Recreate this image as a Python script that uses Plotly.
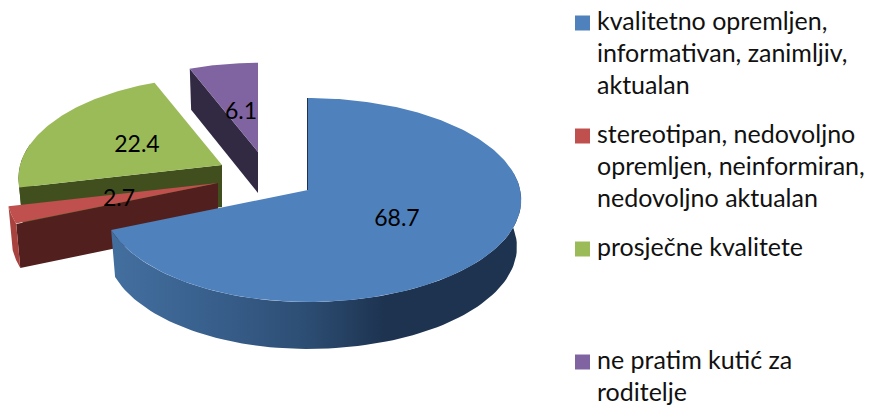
import math
import plotly.graph_objects as go

# ---- data ----
categories = ["kvalitetno opremljen, informativan, zanimljiv, aktualan",
              "stereotipan, nedovoljno opremljen, neinformiran, nedovoljno aktualan",
              "prosječne kvalitete",
              "ne pratim kutić za roditelje"]
values = [68.7, 2.7, 22.4, 6.1]
value_labels = ["68.7", "2.7", "22.4", "6.1"]
legend_lines = [["kvalitetno opremljen,", "informativan, zanimljiv,", "aktualan"],
                ["stereotipan, nedovoljno", "opremljen, neinformiran,", "nedovoljno aktualan"],
                ["prosječne kvalitete"],
                ["ne pratim kutić za", "roditelje"]]

# ---- styling / layout ----
top_colors = ["#4f81bd", "#c0504d", "#9bbb59", "#8064a2"]
wall_colors = ["#1d3350", "#511f1e", "#414f1f", "#322943"]
apex = [(308, 190), (218, 183), (222, 165), (258, 152)]
scale = [1.0, 1.025, 0.985, 0.97]
right_stretch = [1.035, 1.0, 1.0, 1.0]
persp = [0.098, 0.098, 0.13, 0.098]
depth = [47, 44, 42, 41]
label_xy = [(397, 220), (119, 200), (137, 146), (241, 113)]
RX, RY = 205, 101
FONT = "Lato"
FS_LABEL = 23
FS_LEGEND = 25
total = sum(values)

edges = [0]
for v in values:
    edges.append(edges[-1] + v / total * 360)


def pt(i, deg, lower=False):
    t = math.radians(deg)
    X, Y = math.sin(t), -math.cos(t)
    f = 1 / (1 - persp[i] * Y) * scale[i]
    ax, ay = apex[i]
    rx = RX * (right_stretch[i] if X > 0 else 1.0)
    if lower:
        return ax + rx * X * f * 0.98, ay + depth[i] + RY * Y * f
    return ax + rx * X * f, ay + RY * Y * f


def arc(i, a, b, lower=False, n=90):
    return [pt(i, a + (b - a) * k / n, lower) for k in range(n + 1)]


fig = go.Figure()


def poly(points, color, **kw):
    xs = [p[0] for p in points] + [points[0][0]]
    ys = [p[1] for p in points] + [points[0][1]]
    fig.add_trace(go.Scatter(x=xs, y=ys, mode="lines", fill="toself", fillcolor=color,
                             line=dict(width=0, color=color), hoverinfo="skip",
                             showlegend=False, **kw))


def cut_face(i, deg, color):
    ax, ay = apex[i]
    a, b = pt(i, deg), pt(i, deg, True)
    poly([(ax, ay), a, b, (ax, ay + depth[i])], color)


# purple
cut_face(3, edges[3], wall_colors[3])
poly([apex[3]] + arc(3, edges[3], edges[4]), top_colors[3])
# green
cut_face(2, edges[2], wall_colors[2])
poly(arc(2, edges[2], edges[2] + 25) + arc(2, edges[2] + 25, edges[2], True), wall_colors[2])
poly([apex[2]] + arc(2, edges[2], edges[3]), top_colors[2])
# red
cut_face(1, edges[1], wall_colors[1])
poly(arc(1, edges[1], edges[2]) + arc(1, edges[2], edges[1], True), "#a8423f")
poly([apex[1]] + arc(1, edges[1], edges[2]), top_colors[1])
# blue
fig.add_trace(go.Scatter(
    x=[apex[0][0], pt(0, 0)[0]], y=[apex[0][1], pt(0, 0)[1]], mode="lines",
    line=dict(color=wall_colors[0], width=2), hoverinfo="skip", showlegend=False))
wall = arc(0, 80, edges[1]) + arc(0, edges[1], 80, True)
poly(wall, wall_colors[0],
     fillgradient=dict(type="horizontal", start=111, stop=521,
                       colorscale=[[0, "#436f9f"], [0.25, "#385f8c"], [0.47, "#2d4e74"],
                                   [0.67, "#1d3350"], [1, "#1d3350"]]))
poly([apex[0]] + arc(0, 0, edges[1], n=240), top_colors[0])

# value labels
fig.add_trace(go.Scatter(x=[p[0] for p in label_xy], y=[p[1] for p in label_xy],
                         mode="text", text=value_labels, textposition="middle center",
                         textfont=dict(family=FONT, size=FS_LABEL, color="black"),
                         hoverinfo="skip", showlegend=False))

# legend
y0 = [23, 136, 249, 362]
LH = 32
for i, lines in enumerate(legend_lines):
    fig.add_trace(go.Scatter(x=[582.5], y=[y0[i]], mode="markers",
                             marker=dict(symbol="square", size=15, color=top_colors[i], line=dict(width=0)),
                             hoverinfo="skip", showlegend=False))
    fig.add_trace(go.Scatter(x=[597] * len(lines), y=[y0[i] + 1 + k * LH for k in range(len(lines))],
                             mode="text", text=lines, textposition="middle right",
                             textfont=dict(family=FONT, size=FS_LEGEND, color="#111111"),
                             hoverinfo="skip", showlegend=False))

fig.update_layout(width=873, height=405, margin=dict(l=0, r=0, t=0, b=0),
                  paper_bgcolor="white", plot_bgcolor="white", showlegend=False,
                  xaxis=dict(range=[0, 873], visible=False, fixedrange=True),
                  yaxis=dict(range=[405, 0], visible=False, fixedrange=True))
fig.write_html("out.html", config={"displayModeBar": False},
               post_script="document.body.style.margin='0';document.documentElement.style.overflow='hidden';")
